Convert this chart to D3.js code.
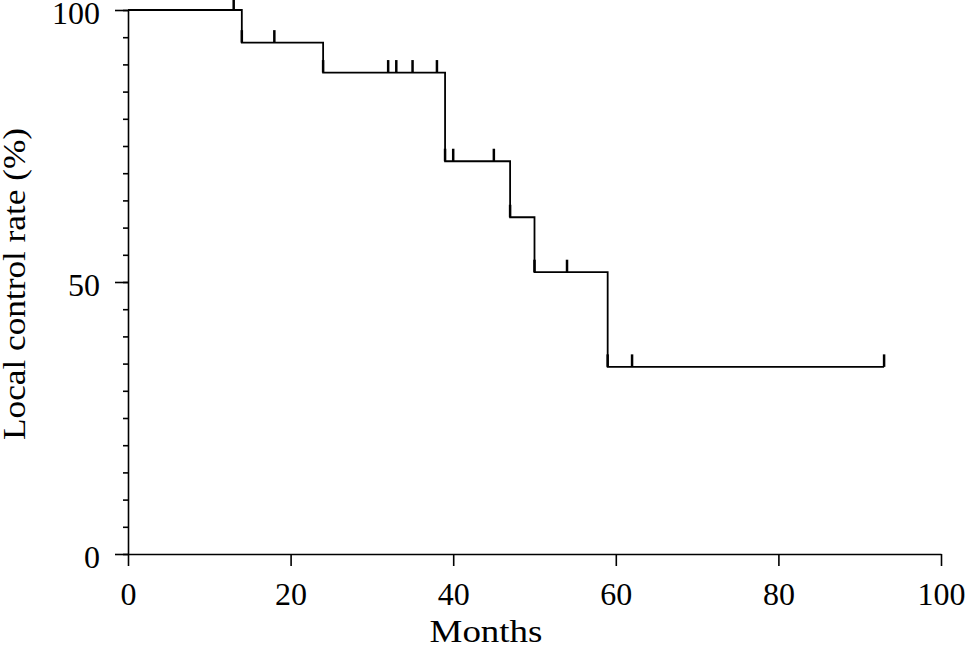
<!DOCTYPE html>
<html>
<head>
<meta charset="utf-8">
<script src="https://cdn.jsdelivr.net/npm/d3@7"></script>
<style>
  html, body { margin: 0; padding: 0; background: #fff; }
  svg { display: block; }
  text { font-family: "Liberation Serif", "Times New Roman", serif; fill: #000; }
</style>
</head>
<body>
<script>
// Kaplan-Meier step data (months, local control %)
const eventTimes = [0, 14, 24, 39, 47, 50, 59];
const survival   = [100, 94.0, 88.5, 72.2, 61.9, 51.8, 34.4];
const lastFollowUp = 93;
// Censoring marks (months)
const censorTimes = [13, 14, 18, 24, 32, 33, 35, 38, 39, 40, 45, 47, 50, 54, 59, 62, 93];
// Axis ticks
const xTicks = [0, 20, 40, 60, 80, 100];
const yMajorTicks = [0, 50, 100];
const yMinorTicks = d3.range(0, 101, 5);
const xTitle = "Months";
const yTitle = "Local control rate (%)";

const W = 966, H = 645;
const svg = d3.select("body").append("svg").attr("width", W).attr("height", H);

const x = d3.scaleLinear().domain([0, 100]).range([128, 941]);
const y = d3.scaleLinear().domain([0, 100]).range([554, 10]);

function survAt(t) {
  let s = survival[0];
  for (let i = 0; i < eventTimes.length; i++) if (eventTimes[i] <= t) s = survival[i];
  return s;
}

// Y axis minor ticks
svg.append("g").attr("transform", `translate(${x(0)},0)`)
  .call(d3.axisLeft(y).tickValues(yMinorTicks).tickSize(5).tickSizeOuter(0).tickFormat(""))
  .call(g => g.select(".domain").attr("stroke-width", 1.6))
  .call(g => g.selectAll(".tick line").attr("stroke-width", 1.6));

// Y axis major ticks + labels
svg.append("g").attr("transform", `translate(${x(0)},0)`)
  .call(d3.axisLeft(y).tickValues(yMajorTicks).tickSize(13).tickSizeOuter(0).tickPadding(15).tickFormat(d3.format("d")))
  .call(g => g.select(".domain").remove())
  .call(g => g.selectAll(".tick line").attr("stroke-width", 1.6))
  .call(g => g.selectAll(".tick text")
      .attr("font-size", 32).attr("dy", "0.42em")
      .style("font-family", "'Liberation Serif', serif"));

// X axis
svg.append("g").attr("transform", `translate(0,${y(0)})`)
  .call(d3.axisBottom(x).tickValues(xTicks).tickSize(12).tickSizeOuter(0).tickFormat(d3.format("d")))
  .call(g => g.select(".domain").attr("stroke-width", 1.6))
  .call(g => g.selectAll(".tick line").attr("stroke-width", 1.6))
  .call(g => g.selectAll(".tick text")
      .attr("font-size", 32).attr("y", 51).attr("dy", 0)
      .style("font-family", "'Liberation Serif', serif"));

// Survival step curve
const pts = eventTimes.map((t, i) => [t, survival[i]]);
pts.push([lastFollowUp, survival[survival.length - 1]]);
svg.append("path")
  .datum(pts)
  .attr("fill", "none")
  .attr("stroke", "#000")
  .attr("stroke-width", 1.8)
  .attr("d", d3.line().x(d => x(d[0])).y(d => y(d[1])).curve(d3.curveStepAfter));

// Censor marks
svg.append("g").selectAll("line")
  .data(censorTimes)
  .join("line")
  .attr("x1", d => x(d)).attr("x2", d => x(d))
  .attr("y1", d => y(survAt(d)))
  .attr("y2", d => y(survAt(d)) - 12.5)
  .attr("stroke", "#000")
  .attr("stroke-width", 2.5);

// Axis titles
svg.append("text")
  .attr("x", 486).attr("y", 642)
  .attr("text-anchor", "middle")
  .attr("font-size", 32)
  .attr("textLength", 113).attr("lengthAdjust", "spacingAndGlyphs")
  .text(xTitle);

svg.append("text")
  .attr("transform", "translate(25,284) rotate(-90)")
  .attr("text-anchor", "middle")
  .attr("font-size", 31)
  .attr("textLength", 312).attr("lengthAdjust", "spacingAndGlyphs")
  .text(yTitle);
</script>
</body>
</html>
